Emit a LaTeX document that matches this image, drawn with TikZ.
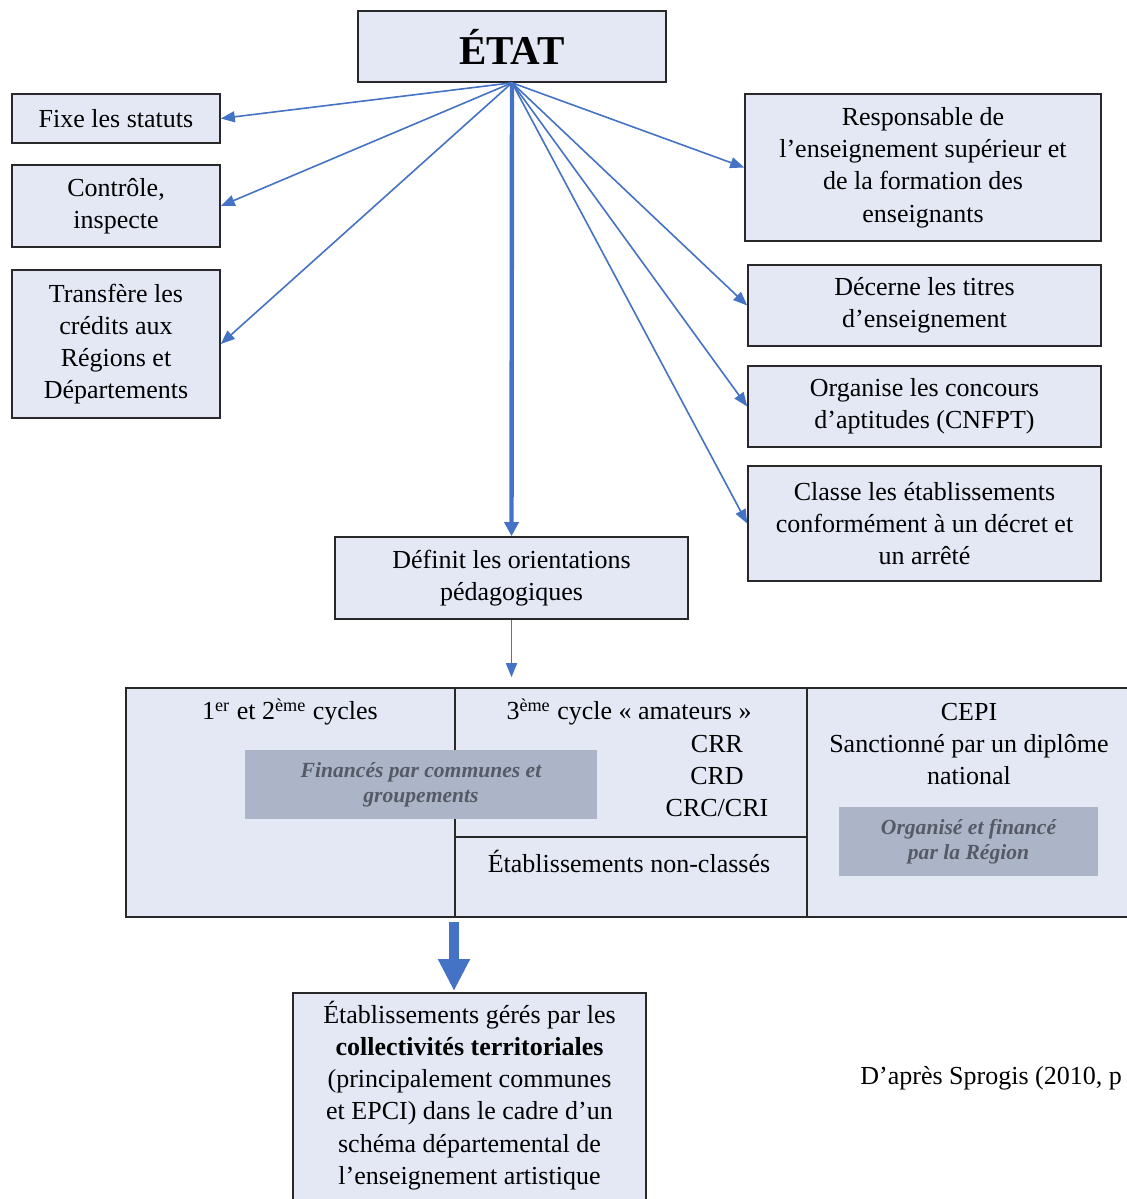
\documentclass[tikz,border=0pt]{standalone}
\usepackage{fontspec}
\setmainfont{Liberation Serif}
\usetikzlibrary{arrows.meta,calc}
\definecolor{boxfill}{RGB}{227,232,244}
\definecolor{boxline}{RGB}{40,40,40}
\definecolor{arrowblue}{RGB}{68,114,196}
\definecolor{grayfill}{RGB}{172,181,199}
\definecolor{graytext}{RGB}{85,90,102}
\newcommand{\mainfs}{\fontsize{13}{16.1}\selectfont}
\tikzset{
  box/.style={draw=boxline, fill=boxfill, line width=0.8pt, align=center, font=\mainfs, inner sep=2pt},
  plain/.style={align=center, font=\mainfs, inner sep=0pt},
  graybox/.style={fill=grayfill, align=center, inner sep=0pt,
    font=\fontsize{10.8}{12.5}\selectfont\bfseries\itshape, text=graytext},
  thinarrow/.style={draw=arrowblue, line width=0.8pt, -{Triangle[width=5.5pt,length=7pt]}},
  mainarrow/.style={draw=arrowblue, line width=2.2pt, -{Triangle[width=7pt,length=7pt]}},
  fatarrow/.style={draw=arrowblue, line width=5pt, -{Triangle[width=15pt,length=16pt]}},
}
\begin{document}
\begin{tikzpicture}[x=0.5pt,y=-0.5pt]
\useasboundingbox (0,0) rectangle (1127,1199);

% top
\node[box, minimum width=154pt, minimum height=35.5pt, font=\fontsize{20.5}{24}\selectfont\bfseries] (etat) at (512,46.5) {ÉTAT};

% left column
\node[box, minimum width=104pt, minimum height=24.5pt] (fixe) at (116,118.5) {Fixe les statuts};
\node[box, minimum width=104pt, minimum height=41pt] (controle) at (116,206) {Contrôle,\\inspecte};
\node[box, minimum width=104pt, minimum height=74pt] (transfere) at (116,344) {Transfère les\\crédits aux\\Régions et\\Départements};

% right column
\node[box, minimum width=178pt, minimum height=73.5pt] (resp) at (923,167.5) {Responsable de\\l’enseignement supérieur et\\de la formation des\\enseignants};
\node[box, minimum width=176.5pt, minimum height=40.5pt] (decerne) at (924.5,305.5) {Décerne les titres\\d’enseignement};
\node[box, minimum width=176.5pt, minimum height=40.5pt] (organise) at (924.5,406.5) {Organise les concours\\d’aptitudes (CNFPT)};
\node[box, minimum width=176.5pt, minimum height=57.5pt] (classe) at (924.5,523.5) {Classe les établissements\\conformément à un décret et\\un arrêté};

% middle
\node[box, minimum width=176.5pt, minimum height=41pt] (definit) at (511.5,578) {Définit les orientations\\pédagogiques};

% big box
\node[box, minimum width=507pt, minimum height=114.5pt] (cycles) at (633,802.5) {};
\draw[draw=boxline, line width=0.8pt] (455,688) -- (455,917);
\draw[draw=boxline, line width=0.8pt] (807,688) -- (807,917);
\draw[draw=boxline, line width=0.8pt] (455,837) -- (807,837);

\node[plain] (c12) at (290,712) {1\textsuperscript{er} et 2\textsuperscript{ème} cycles};
\node[plain] (c3) at (629,712) {3\textsuperscript{ème} cycle « amateurs »};
\node[plain] (crr) at (717,776) {CRR\\CRD\\CRC/CRI};
\node[plain] (nonclasses) at (629,861) {Établissements non-classés};
\node[plain] (cepi) at (969,744) {CEPI\\Sanctionné par un diplôme\\national};

\node[graybox, minimum width=176pt, minimum height=34.5pt] (fin) at (421,784.5) {Financés par communes et\\groupements};
\node[graybox, minimum width=129.5pt, minimum height=34.5pt] (org) at (968.5,841.5) {Organisé et financé\\par la Région};

% bottom box
\draw[draw=boxline, fill=boxfill, line width=0.8pt] (293,993) rectangle (646,1215);
\node[plain] (bottom) at (469.5,1095.5) {Établissements gérés par les\\\textbf{collectivités territoriales}\\(principalement communes\\et EPCI) dans le cadre d’un\\schéma départemental de\\l’enseignement artistique};

\node[plain, anchor=west] (source) at (860,1078) {D’après Sprogis (2010, p};

% connectors
\draw[thinarrow] (etat.south) -- (fixe.east);
\draw[thinarrow] (etat.south) -- (controle.east);
\draw[thinarrow] (etat.south) -- (transfere.east);
\draw[thinarrow] (etat.south) -- (resp.west);
\draw[thinarrow] (etat.south) -- (decerne.west);
\draw[thinarrow] (etat.south) -- (organise.west);
\draw[thinarrow] (etat.south) -- (classe.west);
\draw[mainarrow] (etat.south) -- (definit.north);
\draw[thinarrow] (definit.south) -- ([yshift=5pt]definit.south |- cycles.north);

\coordinate (fatstart) at (454,922);
\coordinate (fatend) at (454,991);
\draw[fatarrow] (fatstart) -- (fatend);
\end{tikzpicture}
\end{document}
